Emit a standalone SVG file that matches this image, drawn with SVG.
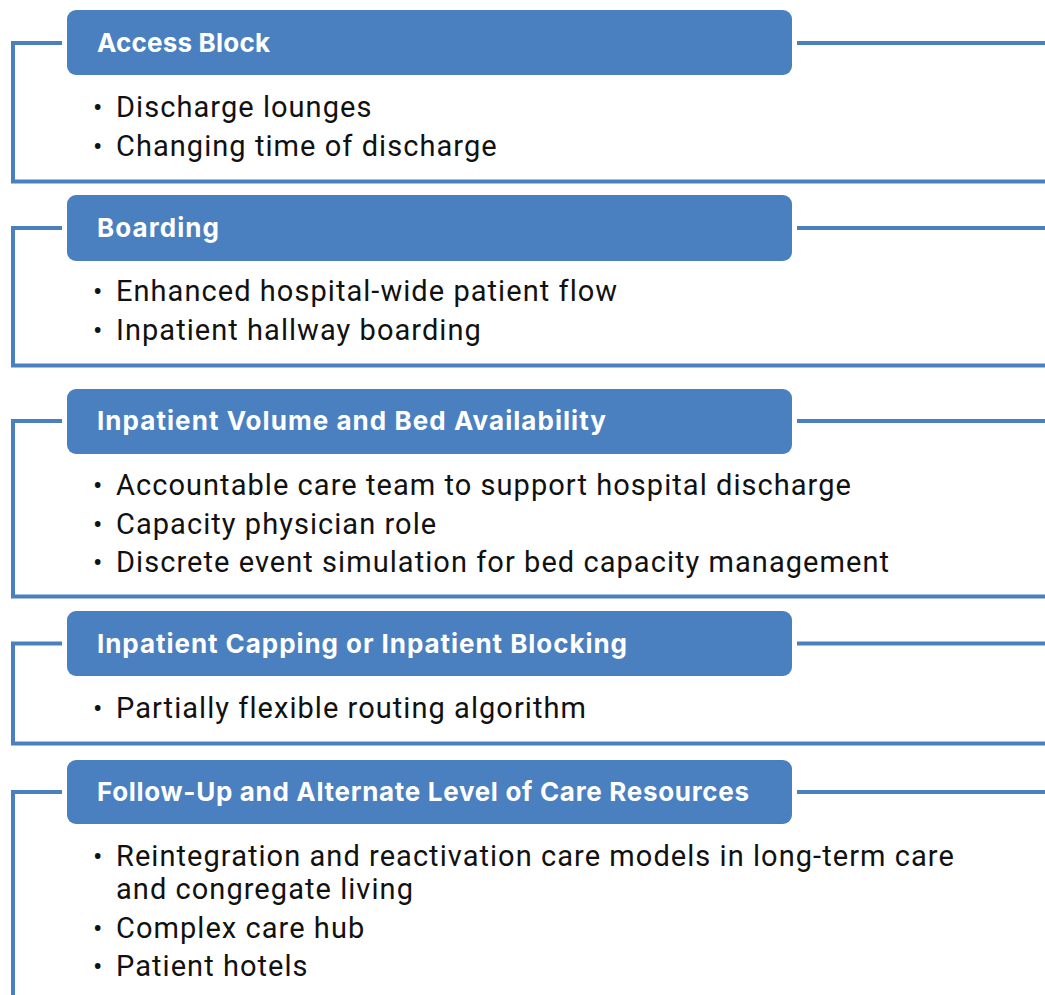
<svg xmlns="http://www.w3.org/2000/svg" width="1045" height="995" viewBox="0 0 1045 995">
  <style>
    .box { fill: #4a80c0; }
    .head { font-family: "Inter", "Open Sans", sans-serif; font-weight: 700; font-size: 26px; fill: #ffffff; }
    .item { font-family: "Roboto", "Liberation Sans", sans-serif; font-size: 29px; letter-spacing: 1.05px; fill: #111111; }
    .dot { font-family: "Roboto", "Liberation Sans", sans-serif; font-size: 28px; fill: #111111; }
    .wire { fill: none; stroke: #4a80c0; stroke-width: 4; stroke-linejoin: miter; }
  </style>
  <rect width="1045" height="995" fill="#ffffff"/>

  <!-- brackets and side rules -->
  <g id="connectors">
    <path class="wire" d="M62 43 H13 V181.5 H1045"/>
    <path class="wire" d="M797 43 H1045"/>
    <path class="wire" d="M62 228 H13 V365.5 H1045"/>
    <path class="wire" d="M797 228 H1045"/>
    <path class="wire" d="M62 421 H13 V596.5 H1045"/>
    <path class="wire" d="M797 421 H1045"/>
    <path class="wire" d="M62 643.5 H13 V743.5 H1045"/>
    <path class="wire" d="M797 643.5 H1045"/>
    <path class="wire" d="M62 792 H13 V995"/>
    <path class="wire" d="M797 792 H1045"/>
  </g>

  <g id="access-block">
    <rect class="box" x="67" y="10" width="725" height="65" rx="9"/>
    <text class="head" x="97" y="51.5" textLength="173" lengthAdjust="spacing">Access Block</text>
    <text class="dot" x="93" y="117">•</text>
    <text class="item" x="116" y="117">Discharge lounges</text>
    <text class="dot" x="93" y="155.5">•</text>
    <text class="item" x="116" y="155.5">Changing time of discharge</text>
  </g>

  <g id="boarding">
    <rect class="box" x="67" y="195" width="725" height="66" rx="9"/>
    <text class="head" x="97" y="236.5" textLength="122" lengthAdjust="spacing">Boarding</text>
    <text class="dot" x="93" y="301">•</text>
    <text class="item" x="116" y="301">Enhanced hospital-wide patient flow</text>
    <text class="dot" x="93" y="340">•</text>
    <text class="item" x="116" y="340">Inpatient hallway boarding</text>
  </g>

  <g id="inpatient-volume">
    <rect class="box" x="67" y="389" width="725" height="65" rx="9"/>
    <text class="head" x="97" y="430" textLength="509" lengthAdjust="spacing">Inpatient Volume and Bed Availability</text>
    <text class="dot" x="93" y="495">•</text>
    <text class="item" x="116" y="495">Accountable care team to support hospital discharge</text>
    <text class="dot" x="93" y="533.5">•</text>
    <text class="item" x="116" y="533.5">Capacity physician role</text>
    <text class="dot" x="93" y="572">•</text>
    <text class="item" x="116" y="572">Discrete event simulation for bed capacity management</text>
  </g>

  <g id="inpatient-capping">
    <rect class="box" x="67" y="611" width="725" height="65" rx="9"/>
    <text class="head" x="97" y="652.5" textLength="530" lengthAdjust="spacing">Inpatient Capping or Inpatient Blocking</text>
    <text class="dot" x="93" y="718">•</text>
    <text class="item" x="116" y="718">Partially flexible routing algorithm</text>
  </g>

  <g id="follow-up">
    <rect class="box" x="67" y="760" width="725" height="64" rx="9"/>
    <text class="head" x="97" y="801" textLength="652" lengthAdjust="spacing">Follow-Up and Alternate Level of Care Resources</text>
    <text class="dot" x="93" y="866">•</text>
    <text class="item" x="116" y="866">Reintegration and reactivation care models in long-term care</text>
    <text class="item" x="116" y="899">and congregate living</text>
    <text class="dot" x="93" y="938">•</text>
    <text class="item" x="116" y="938">Complex care hub</text>
    <text class="dot" x="93" y="975.5">•</text>
    <text class="item" x="116" y="975.5">Patient hotels</text>
  </g>
</svg>
